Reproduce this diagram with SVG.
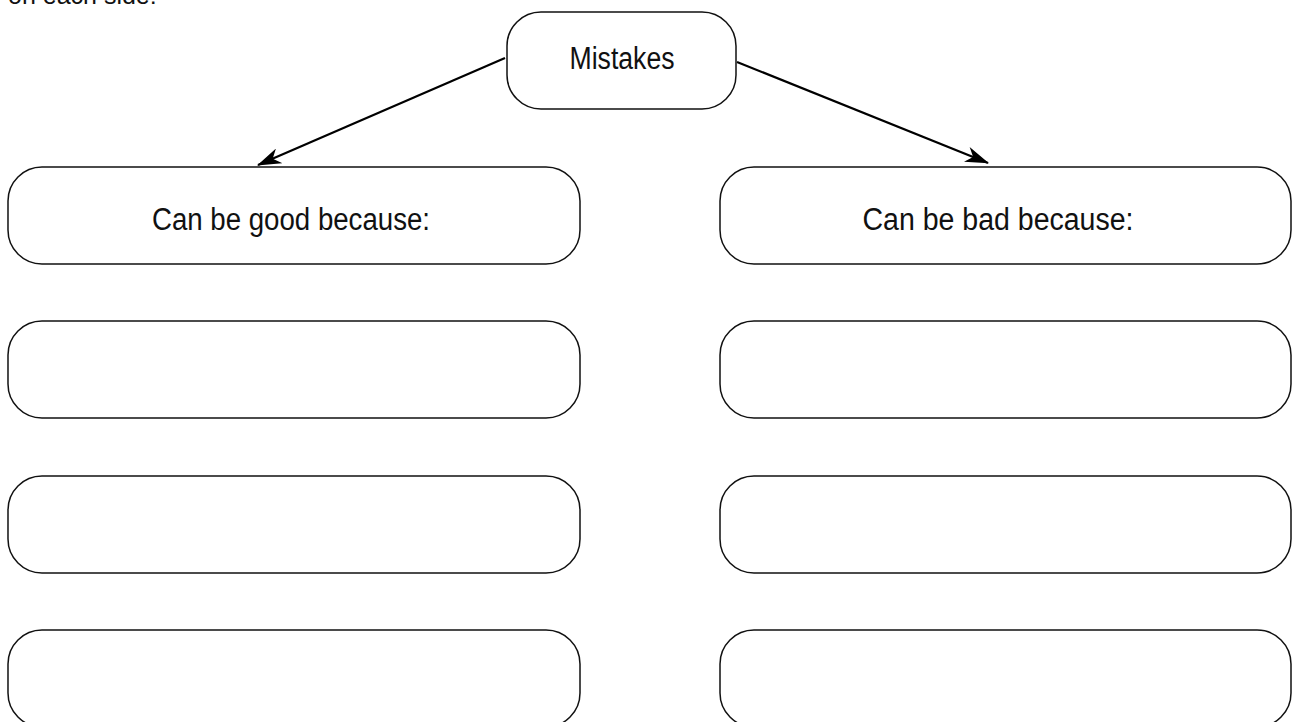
<svg xmlns="http://www.w3.org/2000/svg" width="1293" height="722" viewBox="0 0 1293 722">
<style>
.box{fill:#fff;stroke:#111;stroke-width:1.5}
.lbl{font-family:"Liberation Sans",Arial,sans-serif;font-size:31px;fill:#111;text-anchor:middle}
.con{stroke:#000;stroke-width:2.2;fill:none}
</style>
<defs>
<marker id="ah" viewBox="0 0 24 16" refX="23" refY="8" markerWidth="24" markerHeight="16" markerUnits="userSpaceOnUse" orient="auto">
<path d="M0,0 L24,8 L0,16 L7,8 Z" fill="#000"/>
</marker>
</defs>
<rect width="1293" height="722" fill="#fff"/>
<text x="8" y="4" font-family="Liberation Sans,Arial,sans-serif" font-size="25" fill="#111">on each side:</text>
<g id="connectors">
<line class="con" x1="505" y1="58" x2="258" y2="165" marker-end="url(#ah)"/>
<line class="con" x1="737" y1="62" x2="988" y2="163" marker-end="url(#ah)"/>
</g>
<g id="mistakes"><rect class="box" x="507" y="12" width="229" height="97" rx="34"/><text class="lbl" x="622" y="69" textLength="105" lengthAdjust="spacingAndGlyphs">Mistakes</text></g>
<g id="good"><rect class="box" x="8" y="167" width="572" height="97" rx="34"/><text class="lbl" x="291" y="230" textLength="278" lengthAdjust="spacingAndGlyphs">Can be good because:</text></g>
<g id="bad"><rect class="box" x="720" y="167" width="571" height="97" rx="34"/><text class="lbl" x="998" y="230" textLength="271" lengthAdjust="spacingAndGlyphs">Can be bad because:</text></g>
<g id="good1"><rect class="box" x="8" y="321" width="572" height="97" rx="34"/></g>
<g id="bad1"><rect class="box" x="720" y="321" width="571" height="97" rx="34"/></g>
<g id="good2"><rect class="box" x="8" y="476" width="572" height="97" rx="34"/></g>
<g id="bad2"><rect class="box" x="720" y="476" width="571" height="97" rx="34"/></g>
<g id="good3"><rect class="box" x="8" y="630" width="572" height="97" rx="34"/></g>
<g id="bad3"><rect class="box" x="720" y="630" width="571" height="97" rx="34"/></g>
</svg>
